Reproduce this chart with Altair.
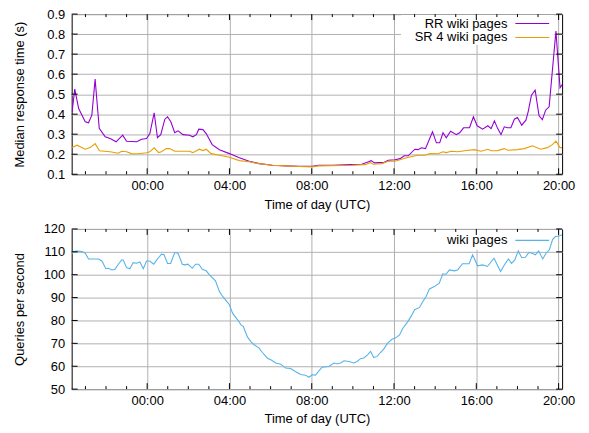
import altair as alt
import pandas as pd

# ---------------- data (hours relative to 00:00 UTC; negative = previous evening) -------------
RR_HOURS = [-3.65, -3.52, -3.33, -3.01, -2.85, -2.69, -2.53, -2.33, -2.04, -1.80, -1.51, -1.19,
            -1.00, -0.51, -0.27, -0.03, 0.13, 0.34, 0.50, 0.66, 0.86, 0.99, 1.15, 1.34, 1.50,
            1.74, 2.06, 2.22, 2.39, 2.51, 2.71, 2.87, 3.16, 3.51, 4.00, 4.48, 4.96, 5.44, 6.09,
            6.73, 7.38, 8.02, 8.34, 8.99, 9.95, 10.43, 10.76, 10.89, 11.05, 11.24, 11.48, 11.72,
            12.05, 12.29, 12.50, 12.69, 13.01, 13.17, 13.33, 13.53, 13.87, 14.06, 14.22, 14.38,
            14.54, 14.75, 15.03, 15.19, 15.38, 15.67, 15.86, 16.04, 16.31, 16.56, 16.72, 16.88,
            17.04, 17.20, 17.36, 17.52, 17.68, 17.85, 18.00, 18.21, 18.41, 18.52, 18.68, 18.86,
            19.05, 19.21, 19.37, 19.54, 19.87, 20.07, 20.17]
RR_MEDIAN = [0.41, 0.525, 0.428, 0.362, 0.357, 0.395, 0.575, 0.33, 0.287, 0.278, 0.262, 0.295,
             0.265, 0.262, 0.275, 0.278, 0.303, 0.407, 0.283, 0.298, 0.375, 0.387, 0.362, 0.307,
             0.317, 0.298, 0.295, 0.287, 0.298, 0.325, 0.323, 0.303, 0.248, 0.222, 0.203, 0.182,
             0.165, 0.153, 0.145, 0.142, 0.140, 0.140, 0.145, 0.145, 0.148, 0.150, 0.162, 0.168,
             0.157, 0.158, 0.158, 0.170, 0.172, 0.178, 0.192, 0.192, 0.225, 0.223, 0.232, 0.228,
             0.312, 0.257, 0.257, 0.307, 0.282, 0.315, 0.298, 0.307, 0.332, 0.332, 0.387, 0.342,
             0.325, 0.342, 0.328, 0.367, 0.328, 0.298, 0.337, 0.332, 0.332, 0.375, 0.383, 0.345,
             0.370, 0.412, 0.495, 0.520, 0.392, 0.373, 0.420, 0.437, 0.815, 0.532, 0.548]

SR_HOURS = [-3.65, -3.41, -3.01, -2.77, -2.53, -2.32, -1.80, -1.40, -1.24, -1.00, -0.76, -0.43,
            -0.03, 0.13, 0.34, 0.56, 0.69, 0.93, 1.09, 1.34, 1.74, 2.06, 2.22, 2.54, 2.71, 2.87,
            3.11, 3.51, 4.00, 4.48, 4.96, 5.44, 6.09, 6.73, 7.38, 8.02,
            8.34, 9.95, 10.60, 10.84, 11.00, 11.40, 11.72, 12.05, 12.29, 12.61, 12.93, 13.17,
            13.50, 13.74, 14.14, 14.38, 14.54, 14.78, 15.11, 15.43, 15.91, 16.23, 16.56, 16.72,
            17.04, 17.36, 17.52, 18.00, 18.33, 18.73, 19.13, 19.45, 19.70, 19.87, 20.07, 20.17]
SR_MEDIAN = [0.233, 0.245, 0.225, 0.233, 0.253, 0.217, 0.212, 0.205, 0.215, 0.212, 0.203, 0.202,
             0.207, 0.212, 0.232, 0.208, 0.212, 0.228, 0.228, 0.215, 0.215, 0.215, 0.208, 0.225,
             0.218, 0.225, 0.203, 0.195, 0.185, 0.168, 0.162, 0.153, 0.145, 0.142, 0.139, 0.137,
             0.142, 0.145, 0.148, 0.158, 0.150, 0.153, 0.165, 0.165, 0.172, 0.182, 0.190, 0.195,
             0.195, 0.203, 0.202, 0.212, 0.208, 0.215, 0.212, 0.217, 0.223, 0.215, 0.225, 0.217,
             0.218, 0.228, 0.220, 0.223, 0.228, 0.242, 0.225, 0.233, 0.248, 0.265, 0.233, 0.233]

QPS_HOURS = [-3.65, -3.57, -3.41, -3.17, -3.01, -2.85, -2.61, -2.37, -2.20, -2.01, -1.88, -1.72,
             -1.56, -1.40, -1.24, -1.16, -1.00, -0.84, -0.68, -0.51, -0.35, -0.19, -0.03, 0.13,
             0.32, 0.53, 0.70, 0.82, 0.99, 1.14, 1.34, 1.50, 1.71, 1.82, 1.98, 2.19, 2.35, 2.51,
             2.68, 2.87, 3.03, 3.32, 3.51, 3.67, 4.00, 4.15, 4.40, 4.56, 4.67, 4.88, 5.04, 5.20,
             5.44, 5.60, 5.85, 6.01, 6.25, 6.49, 6.73, 6.98, 7.22, 7.46, 7.70, 7.86, 8.02, 8.18,
             8.50, 8.83, 9.08, 9.25, 9.41, 9.57, 9.81, 10.05, 10.21, 10.37, 10.53, 10.71, 10.86,
             11.01, 11.18, 11.34, 11.50, 11.69, 11.90, 12.06, 12.27, 12.43, 12.68, 12.84, 13.00,
             13.24, 13.40, 13.56, 13.72, 13.96, 14.20, 14.37, 14.53, 14.69, 14.93, 15.09, 15.33,
             15.65, 15.82, 16.06, 16.30, 16.54, 16.86, 17.18, 17.34, 17.56, 17.71, 17.87, 18.04,
             18.20, 18.39, 18.55, 18.71, 18.87, 19.03, 19.23, 19.39, 19.55, 19.71, 19.84, 20.03,
             20.17]
QPS_VALUES = [109.1, 110.1, 110.3, 110.1, 109.4, 106.9, 106.9, 106.9, 106.0, 102.6, 102.8, 102.1,
              102.4, 104.6, 106.5, 106.3, 103.1, 102.6, 105.3, 105.0, 105.6, 102.6, 106.0, 106.0,
              104.6, 107.2, 109.0, 108.7, 104.9, 104.9, 109.7, 109.4, 104.6, 104.3, 104.6, 102.8,
              104.6, 104.6, 102.4, 101.7, 99.9, 97.3, 92.7, 90.5, 86.9, 83.2, 80.3, 78.1, 77.4,
              72.7, 70.8, 69.4, 67.9, 66.0, 63.5, 62.8, 61.4, 60.9, 59.2, 59.0, 57.6, 56.4, 56.1,
              55.2, 56.3, 56.1, 59.6, 59.9, 61.4, 61.1, 61.4, 62.4, 62.1, 61.4, 62.1, 63.3, 63.6,
              65.0, 66.5, 63.8, 64.3, 66.0, 67.5, 70.1, 71.8, 72.3, 73.7, 76.6, 79.6, 82.0, 84.7,
              85.7, 88.3, 90.5, 93.8, 94.8, 96.3, 100.4, 100.2, 102.1, 101.7, 102.1, 104.8, 104.8,
              108.7, 103.9, 104.3, 103.6, 107.2, 101.4, 103.9, 106.9, 105.0, 106.5, 110.4, 107.5,
              107.6, 109.7, 109.4, 108.7, 110.4, 106.9, 109.4, 110.9, 115.5, 116.7, 116.9, 117.5]

TOP_SERIES = ["RR wiki pages", "SR 4 wiki pages"]
BOTTOM_SERIES = ["wiki pages"]
TOP_COLORS = ["#9400d3", "#e69f00"]
BOTTOM_COLORS = ["#56b4e9"]

X_DOMAIN = [-3.67, 20.17]
X_MAJOR = [0, 4, 8, 12, 16, 20]
X_MINOR = [h for h in range(-3, 21) if h % 4 != 0]
TOP_Y_TICKS = [0.1, 0.2, 0.3, 0.4, 0.5, 0.6, 0.7, 0.8, 0.9]
BOTTOM_Y_TICKS = [50, 60, 70, 80, 90, 100, 110, 120]

# ---------------- layout constants ----------------
W = 493
H1 = 161
H2 = 161
FONT = "Liberation Sans"
GRID = "#b0b0b0"

x_scale = alt.Scale(domain=X_DOMAIN, nice=False, zero=False)
X_AXIS = alt.Axis(values=X_MAJOR, title="Time of day (UTC)",
                  labelExpr="(datum.value < 10 ? '0' : '') + datum.value + ':00'",
                  grid=True, gridColor=GRID, ticks=False, domain=False,
                  labelPadding=5, titlePadding=6)


def panel(series_data, series, colors, y_domain, y_ticks, y_fmt, y_title, height, box, legend_rows):
    y_scale = alt.Scale(domain=y_domain, nice=False, zero=False)
    y_axis = alt.Axis(values=y_ticks, format=y_fmt, title=y_title, grid=True,
                      gridColor=GRID, ticks=False, domain=False, labelPadding=7,
                      titleX=-45, titleBaseline="bottom")
    X = lambda: alt.X("h:Q", scale=x_scale, axis=X_AXIS, title="Time of day (UTC)")
    Y = lambda: alt.Y("v:Q", scale=y_scale, axis=y_axis, title=y_title)

    layers = []
    # white key box hiding the grid behind the legend
    layers.append(alt.Chart(pd.DataFrame({"k": [0]})).mark_rect(fill="white").encode(
        x=alt.value(box[0]), x2=alt.value(box[1]), y=alt.value(1), y2=alt.value(box[2])))

    for (hrs, vals), col in zip(series_data, colors):
        d = pd.DataFrame({"h": hrs, "v": vals})
        layers.append(alt.Chart(d).mark_line(strokeWidth=1.1, clip=True).encode(
            x=X(), y=Y(), color=alt.value(col)))

    # inward tick marks (gnuplot style), on all four sides
    major = pd.DataFrame({"h": X_MAJOR})
    minor = pd.DataFrame({"h": X_MINOR})
    ytk = pd.DataFrame({"v": y_ticks})
    for d, ln in ((major, 6), (minor, 3)):
        layers.append(alt.Chart(d).mark_rule(color="black", strokeWidth=1).encode(
            x=X(), y=alt.value(height), y2=alt.value(height - ln)))
        layers.append(alt.Chart(d).mark_rule(color="black", strokeWidth=1).encode(
            x=X(), y=alt.value(0), y2=alt.value(ln)))
    layers.append(alt.Chart(ytk).mark_rule(color="black", strokeWidth=1).encode(
        y=Y(), x=alt.value(0), x2=alt.value(6)))
    layers.append(alt.Chart(ytk).mark_rule(color="black", strokeWidth=1).encode(
        y=Y(), x=alt.value(W - 6), x2=alt.value(W)))

    # key (label right-aligned, line sample on the right, like gnuplot)
    for name, col, ky in zip(series, colors, legend_rows):
        layers.append(alt.Chart(pd.DataFrame({"label": [name]})).mark_text(
            align="right", baseline="middle", font=FONT, fontSize=13).encode(
            text="label:N", x=alt.value(438), y=alt.value(ky), color=alt.value("black")))
        layers.append(alt.Chart(pd.DataFrame({"label": [name]})).mark_rule(strokeWidth=1.1).encode(
            x=alt.value(446), x2=alt.value(480), y=alt.value(ky), color=alt.value(col)))

    return alt.layer(*layers).properties(width=W, height=height)


top = panel([(RR_HOURS, RR_MEDIAN), (SR_HOURS, SR_MEDIAN)], TOP_SERIES, TOP_COLORS,
            [0.1, 0.9], TOP_Y_TICKS, ".1f", "Median response time (s)", H1, (331, 485, 31),
            [9.5, 23.5])
bottom = panel([(QPS_HOURS, QPS_VALUES)], BOTTOM_SERIES, BOTTOM_COLORS,
               [50, 120], BOTTOM_Y_TICKS, "d", "Queries per second", H2, (356, 485, 21), [11.5])

chart = alt.vconcat(top, bottom, spacing=10).configure_view(
    stroke="black", strokeWidth=1
).configure_axis(
    labelFont=FONT, labelFontSize=13, labelColor="black",
    titleFont=FONT, titleFontSize=13, titleFontWeight="normal", titleColor="black",
).properties(background="white",
             padding={"top": -2, "left": 5, "right": 5, "bottom": 5})

chart.save("out.html", embed_options={"renderer": "svg", "actions": False})
